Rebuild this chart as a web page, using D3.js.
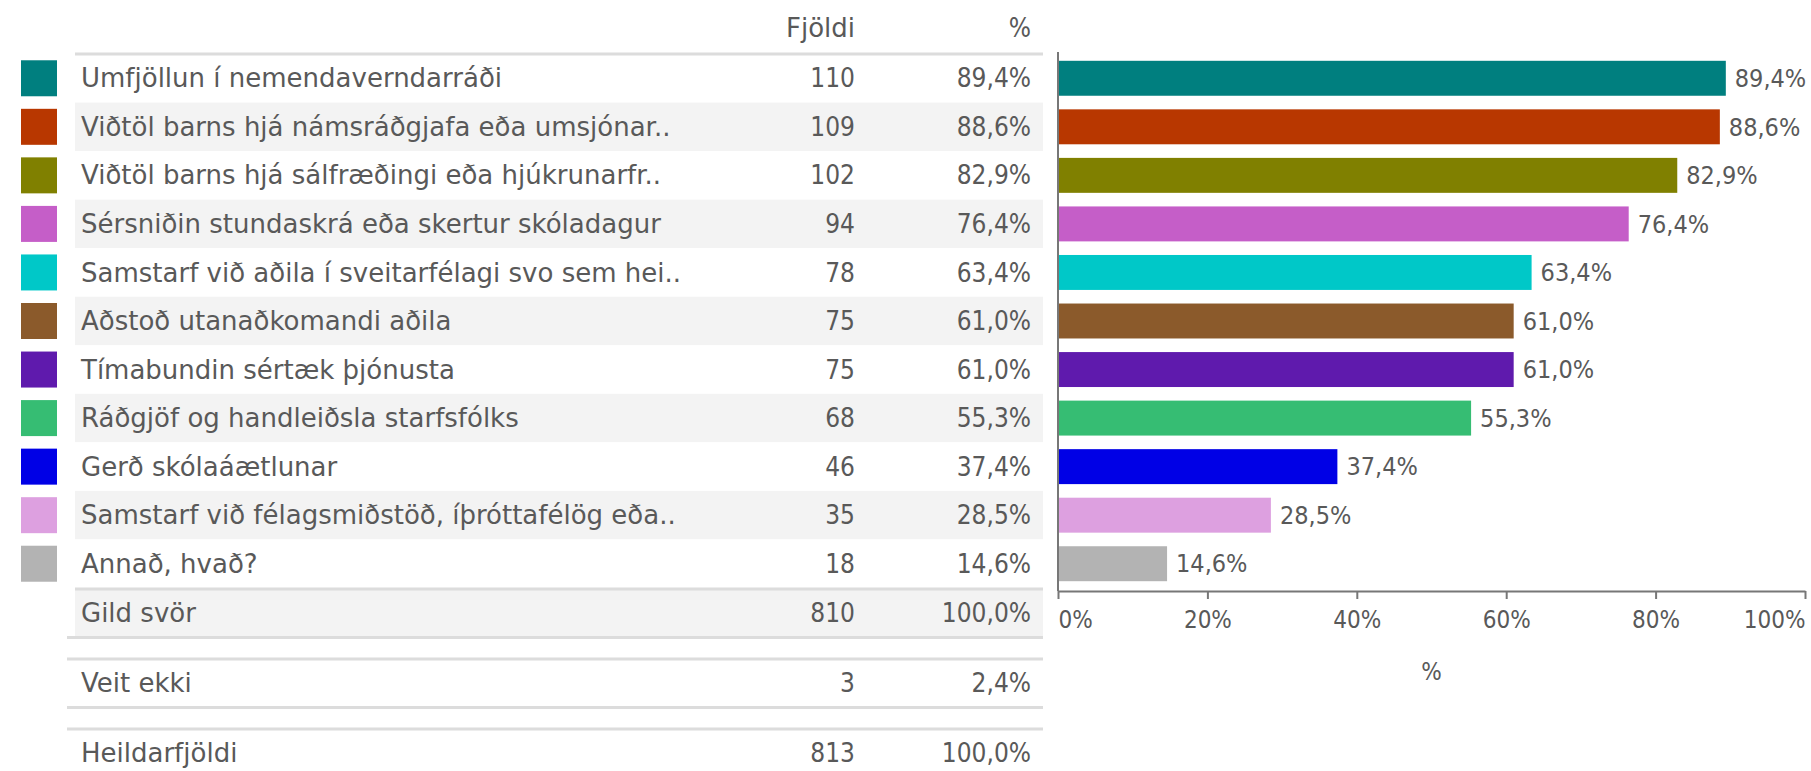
<!DOCTYPE html>
<html>
<head>
<meta charset="utf-8">
<script src="https://cdn.jsdelivr.net/npm/d3@7"></script>
<style>
  html, body { margin: 0; padding: 0; background: #fff; }
  svg { display: block; font-family: 'DejaVu Sans', sans-serif; }
  .txt { fill: #595959; font-size: 26px; }
  .num { fill: #595959; font-size: 26px; font-family: 'DejaVu Sans Condensed', 'DejaVu Sans', sans-serif; font-stretch: condensed; }
  .axis text { fill: #595959; font-size: 24px; font-family: 'DejaVu Sans Condensed', 'DejaVu Sans', sans-serif; font-stretch: condensed; }
  .axis path, .axis line { stroke: #777; stroke-width: 2; }
</style>
</head>
<body>
<div id="chart"></div>
<script>
// categories and values
const categories = [
  'Umfjöllun í nemendaverndarráði',
  'Viðtöl barns hjá námsráðgjafa eða umsjónar..',
  'Viðtöl barns hjá sálfræðingi eða hjúkrunarfr..',
  'Sérsniðin stundaskrá eða skertur skóladagur',
  'Samstarf við aðila í sveitarfélagi svo sem hei..',
  'Aðstoð utanaðkomandi aðila',
  'Tímabundin sértæk þjónusta',
  'Ráðgjöf og handleiðsla starfsfólks',
  'Gerð skólaáætlunar',
  'Samstarf við félagsmiðstöð, íþróttafélög eða..',
  'Annað, hvað?'
];
const counts = [110, 109, 102, 94, 78, 75, 75, 68, 46, 35, 18];
const percents = [89.4, 88.6, 82.9, 76.4, 63.4, 61.0, 61.0, 55.3, 37.4, 28.5, 14.6];
const colors = ['#007f7f', '#b83700', '#808000', '#c55ec8', '#00c8c8', '#8b5a2b',
  '#5f1aad', '#36bd73', '#0000e6', '#dda0e0', '#b3b3b3'];

const summaryLabels = ['Gild svör', 'Veit ekki', 'Heildarfjöldi'];
const summaryCounts = [810, 3, 813];
const summaryPercents = [100.0, 2.4, 100.0];

const xTicks = [0, 20, 40, 60, 80, 100];

const width = 1811;
const height = 771;

const fmtPct = v => v.toFixed(1).replace('.', ',') + '%';

const table = { left: 75, right: 1043, countX: 855, pctX: 1031, textX: 81 };
const plot = { left: 1058, right: 1805, top: 54, bottom: 588 };

const svg = d3.select('#chart')
  .append('svg')
  .attr('width', width)
  .attr('height', height);

// row scale shared by table and bars
const y = d3.scaleBand()
  .domain(categories)
  .range([plot.top, plot.bottom])
  .paddingInner(0.28)
  .paddingOuter(0.14);

const step = y.step();
const rowTop = d => y(d) - y.step() * 0.14;
const rowMid = d => y(d) + y.bandwidth() / 2;

const x = d3.scaleLinear()
  .domain([0, 100])
  .range([plot.left, plot.right]);

// header
svg.append('text')
  .attr('class', 'txt')
  .attr('x', table.countX)
  .attr('y', 28)
  .attr('dy', '0.35em')
  .attr('text-anchor', 'end')
  .text('Fjöldi');

svg.append('text')
  .attr('class', 'num')
  .attr('x', table.pctX)
  .attr('y', 28)
  .attr('dy', '0.35em')
  .attr('text-anchor', 'end')
  .text('%');

// table rows
const rows = svg.append('g').attr('class', 'rows')
  .selectAll('g')
  .data(categories)
  .join('g');

rows.append('rect')
  .attr('x', table.left)
  .attr('y', d => rowTop(d))
  .attr('width', table.right - table.left)
  .attr('height', step)
  .attr('fill', (d, i) => i % 2 === 1 ? '#f3f3f3' : '#fff');

rows.append('rect')
  .attr('x', 21)
  .attr('y', d => rowMid(d) - 18)
  .attr('width', 36)
  .attr('height', 36)
  .attr('fill', (d, i) => colors[i]);

rows.append('text')
  .attr('class', 'txt')
  .attr('x', table.textX)
  .attr('y', rowMid)
  .attr('dy', '0.35em')
  .text(d => d);

rows.append('text')
  .attr('class', 'num')
  .attr('x', table.countX)
  .attr('y', rowMid)
  .attr('dy', '0.35em')
  .attr('text-anchor', 'end')
  .text((d, i) => counts[i]);

rows.append('text')
  .attr('class', 'num')
  .attr('x', table.pctX)
  .attr('y', rowMid)
  .attr('dy', '0.35em')
  .attr('text-anchor', 'end')
  .text((d, i) => fmtPct(percents[i]));

// line under header
const lineColor = '#dcdcdc';
svg.append('line')
  .attr('x1', table.left).attr('x2', table.right)
  .attr('y1', plot.top).attr('y2', plot.top)
  .attr('stroke', lineColor).attr('stroke-width', 3);

// summary rows
const summaryTop = plot.bottom + 1;
const summaryPitch = 70;
const summary = svg.append('g').attr('class', 'summary')
  .selectAll('g')
  .data(summaryLabels)
  .join('g')
  .attr('transform', (d, i) => `translate(0,${summaryTop + i * summaryPitch})`);

summary.append('rect')
  .attr('x', table.left)
  .attr('width', table.right - table.left)
  .attr('height', step)
  .attr('fill', (d, i) => i === 0 ? '#f3f3f3' : '#fff');

summary.append('line')
  .attr('x1', (d, i) => i === 0 ? table.left : 67).attr('x2', table.right)
  .attr('y1', 0).attr('y2', 0)
  .attr('stroke', lineColor).attr('stroke-width', 3);

summary.filter((d, i) => i < 2).append('line')
  .attr('x1', 67).attr('x2', table.right)
  .attr('y1', step).attr('y2', step)
  .attr('stroke', lineColor).attr('stroke-width', 3);

summary.append('text')
  .attr('class', 'txt')
  .attr('x', table.textX)
  .attr('y', step / 2)
  .attr('dy', '0.35em')
  .text(d => d);

summary.append('text')
  .attr('class', 'num')
  .attr('x', table.countX)
  .attr('y', step / 2)
  .attr('dy', '0.35em')
  .attr('text-anchor', 'end')
  .text((d, i) => summaryCounts[i]);

summary.append('text')
  .attr('class', 'num')
  .attr('x', table.pctX)
  .attr('y', step / 2)
  .attr('dy', '0.35em')
  .attr('text-anchor', 'end')
  .text((d, i) => fmtPct(summaryPercents[i]));

// bars
svg.append('g').attr('class', 'bars')
  .selectAll('rect')
  .data(categories)
  .join('rect')
  .attr('x', x(0))
  .attr('y', d => y(d))
  .attr('width', (d, i) => x(percents[i]) - x(0))
  .attr('height', y.bandwidth())
  .attr('fill', (d, i) => colors[i]);

svg.append('g').attr('class', 'values')
  .selectAll('text')
  .data(categories)
  .join('text')
  .attr('class', 'num')
  .style('font-size', '25px')
  .attr('x', (d, i) => x(percents[i]) + 9)
  .attr('y', rowMid)
  .attr('dy', '0.35em')
  .text((d, i) => fmtPct(percents[i]));

// axes
const axisY = plot.bottom + 3;
const xAxis = svg.append('g')
  .attr('class', 'axis')
  .attr('transform', `translate(0,${axisY})`)
  .call(d3.axisBottom(x)
    .tickValues(xTicks)
    .tickFormat(d => d + '%')
    .tickSize(8)
    .tickSizeOuter(0)
    .tickPadding(12));

xAxis.selectAll('.tick text')
  .attr('text-anchor', (d, i) => i === 0 ? 'start' : (i === xTicks.length - 1 ? 'end' : 'middle'));

svg.append('line')
  .attr('x1', x(0)).attr('x2', x(0))
  .attr('y1', 52).attr('y2', axisY)
  .attr('stroke', '#777').attr('stroke-width', 2);

svg.append('text')
  .attr('class', 'num')
  .style('font-size', '24px')
  .attr('x', (plot.left + plot.right) / 2)
  .attr('y', 672)
  .attr('dy', '0.35em')
  .attr('text-anchor', 'middle')
  .text('%');
</script>
</body>
</html>
